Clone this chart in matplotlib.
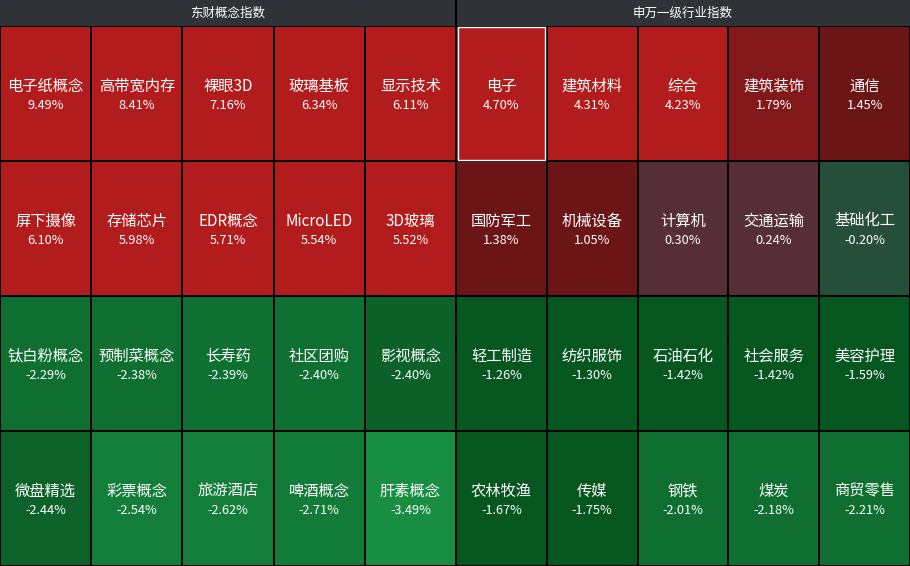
import matplotlib
matplotlib.use('Agg')
import matplotlib.pyplot as plt
from matplotlib.patches import Rectangle

plt.rcParams['font.family'] = ['Noto Sans CJK SC', 'DejaVu Sans']

# panel titles
panel_titles = ['东财概念指数', '申万一级行业指数']

# 东财概念指数 (row-major, 5 per row)
concept_names = ['电子纸概念', '高带宽内存', '裸眼3D', '玻璃基板', '显示技术',
                 '屏下摄像', '存储芯片', 'EDR概念', 'MicroLED', '3D玻璃',
                 '钛白粉概念', '预制菜概念', '长寿药', '社区团购', '影视概念',
                 '微盘精选', '彩票概念', '旅游酒店', '啤酒概念', '肝素概念']
concept_pct = [9.49, 8.41, 7.16, 6.34, 6.11,
               6.10, 5.98, 5.71, 5.54, 5.52,
               -2.29, -2.38, -2.39, -2.40, -2.40,
               -2.44, -2.54, -2.62, -2.71, -3.49]

# 申万一级行业指数
industry_names = ['电子', '建筑材料', '综合', '建筑装饰', '通信',
                  '国防军工', '机械设备', '计算机', '交通运输', '基础化工',
                  '轻工制造', '纺织服饰', '石油石化', '社会服务', '美容护理',
                  '农林牧渔', '传媒', '钢铁', '煤炭', '商贸零售']
industry_pct = [4.70, 4.31, 4.23, 1.79, 1.45,
                1.38, 1.05, 0.30, 0.24, -0.20,
                -1.26, -1.30, -1.42, -1.42, -1.59,
                -1.67, -1.75, -2.01, -2.18, -2.21]

# cell colours as shown in the screenshot
RED = '#b31c1d'
concept_colors = [RED] * 10 + [
    '#0e6f30', '#0e6f30', '#0f7131', '#0f7131', '#0b6128',
    '#0c6229', '#137e3a', '#137e3a', '#117b37', '#178e41']
industry_colors = [RED, RED, RED, '#83181a', '#6b1516',
                   '#6b1516', '#6b1516', '#552e37', '#552e37', '#254e3b',
                   '#06561f', '#06561f', '#06561f', '#06561f', '#06561f',
                   '#06561f', '#06561f', '#0e6f30', '#0e6f30', '#0e6f30']

W, H = 910, 566
header_h = 26
ncols, nrows = 5, 4
panels = [(0, 456, concept_names, concept_pct, concept_colors),
          (456, 910, industry_names, industry_pct, industry_colors)]

fig = plt.figure(figsize=(W / 100, H / 100), dpi=100, facecolor='black')
ax = fig.add_axes([0, 0, 1, 1])
ax.set_xlim(0, W)
ax.set_ylim(H, 0)
ax.set_facecolor('black')
ax.axis('off')

for p, (x0, x1, names, pct, colors) in enumerate(panels):
    # header
    ax.add_patch(Rectangle((x0 + (1 if p else 0), 0), x1 - x0 - 1, header_h,
                           facecolor='#2f3337', edgecolor='none'))
    ax.text((x0 + x1) / 2, header_h / 2, panel_titles[p], color='white',
            fontsize=9, ha='center', va='center')

    cw = (x1 - x0) / ncols
    rh = (H - header_h) / nrows
    for i, (name, v) in enumerate(zip(names, pct)):
        r, c = divmod(i, ncols)
        cx0 = x0 + c * cw + 1
        cy0 = header_h + r * rh + 1
        ax.add_patch(Rectangle((cx0, cy0), cw - 2, rh - 2,
                               facecolor=colors[i], edgecolor='none'))
        xc = x0 + (c + 0.5) * cw
        yc = header_h + (r + 0.5) * rh
        ax.text(xc, yc - 7.5, name, color='white', fontsize=11,
                ha='center', va='center')
        ax.text(xc, yc + 12, '{:.2f}%'.format(v), color='white', fontsize=9.2,
                ha='center', va='center')

# highlighted cell (电子)
cw = (910 - 456) / ncols
ax.add_patch(Rectangle((456 + 1.5, header_h + 0.5), cw - 3, (H - header_h) / nrows - 2,
                       facecolor='none', edgecolor='white', linewidth=1.0))

fig.savefig('out.png', dpi=100, facecolor='black')
